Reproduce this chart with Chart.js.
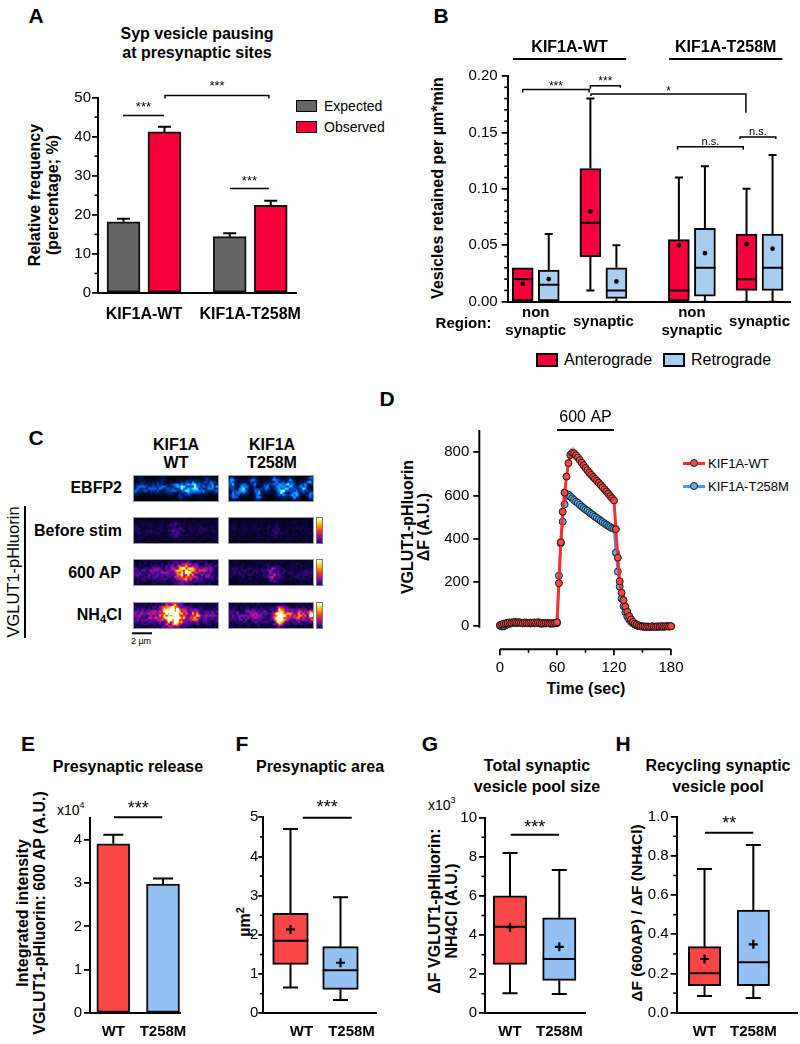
<!DOCTYPE html>
<html>
<head>
<meta charset="utf-8">
<title>KIF1A figure</title>
<script src="https://cdn.jsdelivr.net/npm/chart.js@4.4.1/dist/chart.umd.min.js"></script>
<style>
  html, body { margin:0; padding:0; background:#fff; }
  #root { position:relative; width:800px; height:1044px; overflow:hidden; background:#fff;
          font-family:"Liberation Sans", Arial, Helvetica, sans-serif; color:#000; }
  #root canvas { position:absolute; }
  .t { position:absolute; white-space:nowrap; line-height:1; }
  .bx { position:absolute; box-sizing:border-box; }
</style>
</head>
<body>
<div id="root"></div>
<script>
// ================= DATA =================
// Panel A
const aGroups = ['KIF1A-WT', 'KIF1A-T258M'];
const aSeries = ['Expected', 'Observed'];
const aExpected = [18.2, 14.4];
const aExpectedSem = [0.8, 0.9];
const aObserved = [41.2, 22.4];
const aObservedSem = [1.3, 1.2];

// Panel B (order: WT non-syn, WT syn, T258M non-syn, T258M syn)
const bGenotypes = ['KIF1A-WT', 'KIF1A-T258M'];
const bRegions = ['non|synaptic', 'synaptic', 'non|synaptic', 'synaptic'];
const bSeries = ['Anterograde', 'Retrograde'];
const bAnteroMin  = [0,     0.010, 0,     0];
const bAnteroQ1   = [0,     0.040, 0,     0.010];
const bAnteroMed  = [0.020, 0.070, 0.010, 0.020];
const bAnteroQ3   = [0.030, 0.118, 0.055, 0.060];
const bAnteroMax  = [0.030, 0.180, 0.110, 0.100];
const bAnteroMean = [0.016, 0.080, 0.050, 0.051];
const bRetroMin   = [0,     0,     0,     0];
const bRetroQ1    = [0,     0.003, 0.005, 0.010];
const bRetroMed   = [0.015, 0.010, 0.030, 0.030];
const bRetroQ3    = [0.028, 0.030, 0.065, 0.060];
const bRetroMax   = [0.060, 0.050, 0.120, 0.130];
const bRetroMean  = [0.020, 0.018, 0.043, 0.047];

// Panel D (time in s, dF in A.U.)
const dSeries = ['KIF1A-WT', 'KIF1A-T258M'];
const dYTicks = [0, 200, 400, 600, 800];
const dXTicks = [0, 60, 120, 180];
const dTime = [0,2,4,6,8,10,12,14,16,18,20,22,24,26,28,30,32,34,36,38,40,42,44,46,48,50,52,54,56,58,60,
  62,64,66,68,70,72,74,76,78,80,82,84,86,88,90,92,94,96,98,100,102,104,106,108,110,112,114,116,118,120,
  122,124,126,128,130,132,134,136,138,140,142,144,146,148,150,152,154,156,158,160,162,164,166,168,170,172,174,176,178,180];
const dWT = [3,6,9,11,13,15,14,16,17,15,16,14,13,15,14,12,14,13,15,13,16,14,12,11,13,12,10,12,11,13,16,
  196,385,526,614,688,750,788,797,795,786,776,764,752,740,728,717,706,696,686,677,668,659,649,639,629,619,609,598,588,578,
  445,314,205,152,118,88,64,44,29,18,10,5,1,-2,-3,-4,-5,-4,-5,-3,-4,-5,-3,-4,-2,-4,-3,-2,-3,-2];
const dWTsem = [3,3,3,3,3,3,3,3,3,3,3,3,3,3,3,3,3,3,3,3,3,3,3,3,3,3,3,3,3,3,4,
  14,18,20,22,24,26,27,27,26,25,25,24,24,23,23,22,22,22,21,21,20,20,19,19,18,18,17,17,16,16,
  14,12,10,8,6,5,5,4,4,3,3,3,3,3,3,3,3,3,3,3,3,3,3,3,3,3,3,3,3,3];
const dMut = [0,-4,-3,2,6,9,11,12,13,12,14,13,11,12,13,12,10,12,11,13,12,10,9,11,10,12,11,9,10,11,12,
  231,380,480,560,600,605,596,588,580,572,566,558,550,543,536,530,523,516,510,503,497,491,484,478,472,466,460,455,450,447,
  337,250,180,126,90,62,42,28,18,10,5,1,-2,-3,-4,-5,-4,-5,-6,-4,-5,-4,-6,-5,-4,-5,-4,-3,-4,-3];
const dMutSem = [2,2,2,2,2,2,2,2,2,2,2,2,2,2,2,2,2,2,2,2,2,2,2,2,2,2,2,2,2,2,2,
  10,12,12,12,11,11,10,10,10,9,9,9,9,9,8,8,8,8,8,8,8,8,7,7,7,7,7,7,7,7,
  8,7,6,5,4,4,3,3,3,2,2,2,2,2,2,2,2,2,2,2,2,2,2,2,2,2,2,2,2,2];

// Panels E-H
const ehLabels = ['WT', 'T258M'];
const eMean = [3.90, 2.97];
const eSem  = [0.21, 0.13];
const fMin = [0.66, 0.34], fQ1 = [1.25, 0.61], fMed = [1.85, 1.10], fQ3 = [2.55, 1.70], fMax = [4.70, 2.96], fMean = [2.14, 1.29];
const gMin = [1.02, 0.99], gQ1 = [2.50, 1.68], gMed = [4.42, 2.77], gQ3 = [6.00, 4.88], gMax = [8.20, 7.33], gMean = [4.40, 3.40];
const hMin = [0.085, 0.075], hQ1 = [0.138, 0.138], hMed = [0.201, 0.257], hQ3 = [0.337, 0.524], hMax = [0.733, 0.856], hMean = [0.274, 0.349];

// ================= STYLE / HELPERS =================
const FONT = '"Liberation Sans", Arial, Helvetica, sans-serif';
const RED_A = '#f5003a', GRAY_A = '#666666', BLUE_B = '#a7cdf0';
const RED_E = '#f84646', BLUE_E = '#93c1f4';
Chart.defaults.font.family = FONT;
Chart.defaults.color = '#000';
const root = document.getElementById('root');

function T(html, x, y, o) {
  o = o || {};
  const d = document.createElement('div');
  d.className = 't';
  d.innerHTML = html;
  d.style.left = x + 'px'; d.style.top = y + 'px';
  d.style.fontSize = (o.size || 16) + 'px';
  d.style.fontWeight = o.bold ? 'bold' : 'normal';
  const ax = o.align === 'left' ? '0%' : (o.align === 'right' ? '-100%' : '-50%');
  d.style.transform = 'translate(' + ax + ',-50%)' + (o.rot ? ' rotate(' + o.rot + 'deg)' : '');
  root.appendChild(d);
  return d;
}
function BX(x, y, w, h, bg, bw, extra) {
  const d = document.createElement('div');
  d.className = 'bx';
  Object.assign(d.style, {left: x + 'px', top: y + 'px', width: w + 'px', height: h + 'px', background: bg,
    border: (bw || 0) + 'px solid #000'}, extra || {});
  root.appendChild(d);
  return d;
}
function makeCanvas(L, Tp, W, H) {
  const c = document.createElement('canvas');
  c.width = W; c.height = H;
  c.style.left = L + 'px'; c.style.top = Tp + 'px';
  c.style.width = W + 'px'; c.style.height = H + 'px';
  root.appendChild(c);
  return c;
}
function frame(L, Tp, W, H, a) {
  return { L, T: Tp, canvas: makeCanvas(L, Tp, W, H),
    padding: {left: 0, top: a.top - Tp, right: L + W - a.right, bottom: 0},
    yW: a.left - L, xH: Tp + H - a.bottom };
}
function baseOpts(f) {
  return { responsive: false, animation: false, events: [], devicePixelRatio: 1,
    layout: {padding: f.padding} };
}
function yAxis(o) {
  const cfg = { type: 'linear', position: 'left', min: o.min, max: o.max,
    border: {display: o.border !== false, color: '#000', width: 2},
    grid: {display: true, drawOnChartArea: false, drawTicks: true, tickLength: o.tl || 6, color: '#000', lineWidth: 1.8},
    ticks: {stepSize: o.step, includeBounds: false, autoSkip: false, font: {size: 15}, color: '#000',
      padding: o.pad == null ? 2 : o.pad, callback: o.cb || (v => v)},
    afterFit: s => { s.width = o.w; } };
  if (o.ticks) cfg.afterBuildTicks = s => { s.ticks = o.ticks.map(v => ({value: v})); };
  return cfg;
}
function xAxisCat(o) {
  return { type: 'linear', position: 'bottom', min: o.min, max: o.max, offset: false,
    border: {display: true, color: '#000', width: 2},
    grid: {display: false, offset: false},
    ticks: {display: !!o.labels, stepSize: 1, includeBounds: false, autoSkip: false, maxRotation: 0, minRotation: 0,
      font: {size: o.fsize || 15, weight: 'bold'}, color: '#000', padding: o.pad == null ? 5 : o.pad,
      labelOffset: o.labelOffset || 0,
      callback: v => { const k = Math.round(v); return (o.labels && Math.abs(v - k) < 1e-6 && o.labels[k - 1]) ? o.labels[k - 1] : ''; }},
    afterFit: s => { s.height = o.h; } };
}

// ---- plugins ----
const minorPlugin = {
  id: 'minor',
  afterDraw(chart, args, opts) {
    const ctx = chart.ctx;
    (opts.list || []).forEach(m => {
      const s = chart.scales[m.axis];
      ctx.save(); ctx.strokeStyle = '#000'; ctx.lineWidth = 1.6;
      const n = Math.round((m.to - m.from) / m.step);
      for (let k = 0; k <= n; k++) {
        const v = m.from + k * m.step;
        if (m.major && Math.abs(v / m.major - Math.round(v / m.major)) < 1e-6) continue;
        const p = s.getPixelForValue(v);
        ctx.beginPath();
        if (s.isHorizontal()) { ctx.moveTo(p, s.top); ctx.lineTo(p, s.top + m.len); }
        else { ctx.moveTo(s.right, p); ctx.lineTo(s.right - m.len, p); }
        ctx.stroke();
      }
      ctx.restore();
    });
  }
};
const sigPlugin = {
  id: 'sig',
  afterDraw(chart, args, opts) {
    const ctx = chart.ctx, xs = chart.scales.x, ys = chart.scales.y;
    (opts.items || []).forEach(it => {
      const x1 = xs.getPixelForValue(it.x1), x2 = xs.getPixelForValue(it.x2), y = ys.getPixelForValue(it.y);
      ctx.save(); ctx.strokeStyle = '#000'; ctx.lineWidth = it.lw || 1.5;
      ctx.beginPath();
      ctx.moveTo(x1, y + (it.dl || 0));
      ctx.lineTo(x1, y); ctx.lineTo(x2, y);
      if (it.drTo != null) ctx.lineTo(x2, ys.getPixelForValue(it.drTo));
      else if (it.dr) ctx.lineTo(x2, y + it.dr);
      ctx.stroke();
      ctx.fillStyle = '#000';
      ctx.font = (it.size || 13) + 'px ' + FONT;
      ctx.textAlign = 'center'; ctx.textBaseline = 'alphabetic';
      ctx.fillText(it.text, (x1 + x2) / 2 + (it.tdx || 0), y - it.by);
      ctx.restore();
    });
  }
};
const errPlugin = {
  id: 'errbars',
  afterDatasetsDraw(chart) {
    const ctx = chart.ctx, ys = chart.scales.y;
    chart.data.datasets.forEach((ds, di) => {
      if (!ds.err) return;
      chart.getDatasetMeta(di).data.forEach((el, i) => {
        const v = ds.data[i].y;
        const base = ys.getPixelForValue(v), top = ys.getPixelForValue(v + ds.err[i]);
        ctx.save(); ctx.strokeStyle = '#000'; ctx.lineWidth = 2;
        ctx.beginPath();
        ctx.moveTo(el.x, base); ctx.lineTo(el.x, top);
        ctx.moveTo(el.x - ds.capW / 2, top); ctx.lineTo(el.x + ds.capW / 2, top);
        ctx.stroke(); ctx.restore();
      });
    });
  }
};
const boxPlugin = {
  id: 'boxes',
  afterDatasetsDraw(chart) {
    const ctx = chart.ctx, ys = chart.scales.y;
    chart.data.datasets.forEach((ds, di) => {
      if (!ds.stats) return;
      const st = ds.stats;
      chart.getDatasetMeta(di).data.forEach((el, i) => {
        const x = el.x, w = el.width, cap = ds.capW;
        const yq1 = ys.getPixelForValue(ds.data[i].y[0]), yq3 = ys.getPixelForValue(ds.data[i].y[1]);
        const ymin = ys.getPixelForValue(st.min[i]), ymax = ys.getPixelForValue(st.max[i]);
        const ymed = ys.getPixelForValue(st.med[i]), ymean = ys.getPixelForValue(st.mean[i]);
        ctx.save(); ctx.strokeStyle = '#000'; ctx.lineWidth = 2;
        ctx.beginPath();
        if (ymax < yq3 - 0.5) { ctx.moveTo(x, yq3); ctx.lineTo(x, ymax); ctx.moveTo(x - cap / 2, ymax); ctx.lineTo(x + cap / 2, ymax); }
        if (ymin > yq1 + 0.5) { ctx.moveTo(x, yq1); ctx.lineTo(x, ymin); ctx.moveTo(x - cap / 2, ymin); ctx.lineTo(x + cap / 2, ymin); }
        ctx.moveTo(x - w / 2, ymed); ctx.lineTo(x + w / 2, ymed);
        ctx.stroke();
        if (ds.meanType === 'dot') {
          ctx.fillStyle = '#000'; ctx.beginPath(); ctx.arc(x, ymean, 2.3, 0, Math.PI * 2); ctx.fill();
        } else {
          const r = 4.5; ctx.lineWidth = 2.2; ctx.beginPath();
          ctx.moveTo(x - r, ymean); ctx.lineTo(x + r, ymean); ctx.moveTo(x, ymean - r); ctx.lineTo(x, ymean + r); ctx.stroke();
        }
        ctx.restore();
      });
    });
  }
};
function boxDataset(pos, q1, q3, mn, md, mx, mean, color, thick, cap, meanType) {
  return { data: q1.map((q, i) => ({x: pos[i], y: [q, q3[i]]})), backgroundColor: color, borderColor: '#000',
    borderWidth: 2, borderSkipped: false, barThickness: thick, grouped: false,
    stats: {min: mn, med: md, max: mx, mean: mean}, capW: cap, meanType: meanType };
}
const noLegend = {legend: {display: false}, tooltip: {enabled: false}};

// ================= PANEL A =================
T('A', 36, 15, {bold: true, size: 21});
T('Syp vesicle pausing', 197, 34, {bold: true, size: 16});
T('at presynaptic sites', 197, 53, {bold: true, size: 16});
T('Relative frequency', 35, 195, {bold: true, size: 16, rot: -90});
T('(percentage; %)', 53, 195, {bold: true, size: 16, rot: -90});
BX(296, 100, 21, 12, GRAY_A, 1.5);
BX(296, 121, 21, 12, RED_A, 1.5);
T(aSeries[0], 324, 106, {size: 14, align: 'left'});
T(aSeries[1], 324, 127, {size: 14, align: 'left'});
const A_OFF = 0.193;
const fA = frame(60, 60, 250, 270, {left: 98, right: 296, top: 97.5, bottom: 293});
new Chart(fA.canvas, {
  type: 'bar',
  data: { datasets: [
    {label: aSeries[0], data: aExpected.map((v, i) => ({x: i + 1 - A_OFF, y: v})), backgroundColor: GRAY_A,
      borderColor: '#111', borderWidth: 2, borderSkipped: false, barThickness: 33, grouped: false, err: aExpectedSem, capW: 13},
    {label: aSeries[1], data: aObserved.map((v, i) => ({x: i + 1 + A_OFF, y: v})), backgroundColor: RED_A,
      borderColor: '#111', borderWidth: 2, borderSkipped: false, barThickness: 33, grouped: false, err: aObservedSem, capW: 13}
  ]},
  options: Object.assign(baseOpts(fA), {
    scales: { x: xAxisCat({min: 0.567, max: 2.431, labels: aGroups, h: fA.xH, fsize: 16, pad: 4}),
              y: yAxis({min: 0, max: 50, step: 10, w: fA.yW, pad: 1}) },
    plugins: Object.assign({}, noLegend, {
      minor: {list: [{axis: 'y', from: 5, to: 45, step: 10, len: 3.5}]},
      sig: {items: [
        {x1: 0.802, x2: 1.188, y: 45.4, text: '***', by: 4.5, size: 13},
        {x1: 1.198, x2: 2.176, y: 50.5, text: '***', dl: 3, dr: 3, by: 5.5, size: 13},
        {x1: 1.809, x2: 2.176, y: 26.7, text: '***', by: 3.5, size: 13}
      ]}
    })
  }),
  plugins: [errPlugin, minorPlugin, sigPlugin]
});

// ================= PANEL B =================
T('B', 441, 15, {bold: true, size: 21});
T('Vesicles retained per µm*min', 438, 188, {bold: true, size: 16, rot: -90});
BX(536, 353, 22, 14, RED_A, 2);
T(bSeries[0], 564, 360, {size: 16, align: 'left'});
BX(663, 353, 22, 14, BLUE_B, 2);
T(bSeries[1], 691, 360, {size: 16, align: 'left'});
const bGroupPos = [2, 7.2, 14, 19.2];
const fB = frame(400, 30, 400, 310, {left: 507.7, right: 790, top: 76, bottom: 301.7});
const bLabelPlugin = {
  id: 'bLabels',
  afterDraw(chart) {
    const ctx = chart.ctx, xs = chart.scales.x, t0 = fB.T;
    ctx.save(); ctx.fillStyle = '#000'; ctx.strokeStyle = '#000';
    ctx.textAlign = 'center'; ctx.textBaseline = 'middle';
    ctx.font = 'bold 16px ' + FONT;
    bGenotypes.forEach((g, k) => {
      const xa = xs.getPixelForValue(bGroupPos[2 * k] - 1.75), xb = xs.getPixelForValue(bGroupPos[2 * k + 1] + 1.75);
      ctx.fillText(g, (xa + xb) / 2, 48 - t0);
      ctx.lineWidth = 2; ctx.beginPath(); ctx.moveTo(xa, 59 - t0); ctx.lineTo(xb, 59 - t0); ctx.stroke();
    });
    ctx.font = 'bold 15px ' + FONT;
    bRegions.forEach((r, k) => {
      const lines = r.split('|'), x = xs.getPixelForValue(bGroupPos[k]);
      if (lines.length === 2) { ctx.fillText(lines[0], x, 313 - t0); ctx.fillText(lines[1], x, 331 - t0); }
      else ctx.fillText(lines[0], x, 322 - t0);
    });
    ctx.fillText('Region:', 463.5 - fB.L, 324 - t0);
    ctx.restore();
  }
};
new Chart(fB.canvas, {
  type: 'bar',
  data: { datasets: [
    boxDataset(bGroupPos.map(p => p - 1), bAnteroQ1, bAnteroQ3, bAnteroMin, bAnteroMed, bAnteroMax, bAnteroMean, RED_A, 21, 8, 'dot'),
    boxDataset(bGroupPos.map(p => p + 1), bRetroQ1, bRetroQ3, bRetroMin, bRetroMed, bRetroMax, bRetroMean, BLUE_B, 21, 8, 'dot')
  ]},
  options: Object.assign(baseOpts(fB), {
    scales: { x: xAxisCat({min: -0.154, max: 21.54, labels: null, h: fB.xH}),
              y: yAxis({min: 0, max: 0.20, step: 0.05, w: fB.yW, pad: 4, cb: v => v.toFixed(2)}) },
    plugins: Object.assign({}, noLegend, {
      minor: {list: [{axis: 'y', from: 0.01, to: 0.19, step: 0.01, major: 0.05, len: 3.5}]},
      sig: {items: [
        {x1: 1, x2: 6.1, y: 0.188, text: '***', dl: 3, dr: 3, by: -0.4, size: 12},
        {x1: 6.2, x2: 8.5, y: 0.1914, text: '***', dl: 3, dr: 2, by: 1, size: 12},
        {x1: 6.25, x2: 18.15, y: 0.1841, text: '*', dl: 2, drTo: 0.1675, by: -0.7, size: 12},
        {x1: 12.9, x2: 17.95, y: 0.1374, text: 'n.s.', dl: 3, dr: 3, by: 2.1, size: 11},
        {x1: 17.7, x2: 20.45, y: 0.146, text: 'n.s.', dl: 2, dr: 2, by: 1.8, size: 11}
      ]}
    })
  }),
  plugins: [boxPlugin, minorPlugin, sigPlugin, bLabelPlugin]
});

// ================= PANEL C (micrographs) =================
T('C', 36, 437, {bold: true, size: 21});
T('KIF1A', 176, 445, {bold: true, size: 16}); T('WT', 176, 463, {bold: true, size: 16});
T('KIF1A', 272, 445, {bold: true, size: 16}); T('T258M', 272, 463, {bold: true, size: 16});
T('EBFP2', 122, 488, {bold: true, size: 16, align: 'right'});
T('Before stim', 122, 531, {bold: true, size: 16, align: 'right'});
T('600 AP', 121, 573, {bold: true, size: 16, align: 'right'});
T('NH<sub style="font-size:11px;vertical-align:-3px;line-height:0">4</sub>Cl', 122, 615, {bold: true, size: 16, align: 'right'});
T('VGLUT1-pHluorin', 13, 572, {size: 16.5, rot: -90});
BX(24, 506, 1.5, 132, '#000', 0);
T('2 µm', 141, 641, {size: 9});
(function drawC() {
  const L = 0, TT = 420;
  const cv = makeCanvas(L, TT, 340, 230);
  const ctx = cv.getContext('2d');
  function vnoise(x, y, seed) {
    const xi = Math.floor(x), yi = Math.floor(y), xf = x - xi, yf = y - yi;
    const h = (a, b) => { const s = Math.sin(a * 127.1 + b * 311.7 + seed * 74.7) * 43758.5453; return s - Math.floor(s); };
    const a = h(xi, yi), b = h(xi + 1, yi), c = h(xi, yi + 1), d = h(xi + 1, yi + 1);
    const u = xf * xf * (3 - 2 * xf), v = yf * yf * (3 - 2 * yf);
    return a + (b - a) * u + (c - a) * v + (a - b - c + d) * u * v;
  }
  function lutFrom(stops) {
    return t => {
      t = Math.max(0, Math.min(1, t));
      for (let k = 1; k < stops.length; k++) {
        if (t <= stops[k][0]) {
          const a = stops[k - 1], b = stops[k], f = (t - a[0]) / (b[0] - a[0]);
          return [a[1] + (b[1] - a[1]) * f, a[2] + (b[2] - a[2]) * f, a[3] + (b[3] - a[3]) * f];
        }
      }
      const s = stops[stops.length - 1]; return [s[1], s[2], s[3]];
    };
  }
  const fire = lutFrom([[0, 0, 0, 0], [0.12, 15, 5, 70], [0.3, 90, 10, 160], [0.45, 175, 20, 140], [0.58, 232, 50, 60], [0.7, 255, 120, 0], [0.85, 255, 210, 20], [1, 255, 255, 245]]);
  const cyan = lutFrom([[0, 0, 0, 0], [0.25, 0, 25, 95], [0.5, 0, 95, 225], [0.75, 20, 175, 255], [1, 150, 245, 255]]);
  function micro(x, y, w, h, spec, lut) {
    const W = Math.round(w), H = Math.round(h);
    const im = ctx.createImageData(W, H);
    for (let j = 0; j < H; j++) for (let i = 0; i < W; i++) {
      const u = (i + 0.5) / W, v = (j + 0.5) / H;
      let val = spec.base + spec.band * Math.exp(-((v - 0.5) * (v - 0.5)) / (2 * 0.2 * 0.2));
      for (const b of spec.blobs) val += spec.gain * b[4] * Math.exp(-0.5 * (((u - b[0]) / b[2]) ** 2 + ((v - b[1]) / b[3]) ** 2));
      const n = vnoise(i / 2.2, j / 2.2, spec.seed);
      val = val * (0.45 + 1.1 * n);
      const c = lut(val), p = (j * W + i) * 4;
      im.data[p] = c[0]; im.data[p + 1] = c[1]; im.data[p + 2] = c[2]; im.data[p + 3] = 255;
    }
    ctx.putImageData(im, Math.round(x), Math.round(y));
    ctx.strokeStyle = '#9a9a9a'; ctx.lineWidth = 1;
    ctx.strokeRect(Math.round(x) + 0.5, Math.round(y) + 0.5, W - 1, H - 1);
  }
  const colX = [133, 228], rowY = [475, 517, 559, 602].map(v => v - TT), IW = 86, IH = 27;
  const specs = [
    [{base: 0.02, band: 0.03, seed: 1, gain: 0.82, blobs: [[0.03,0.55,0.035,0.14,0.4],[0.12,0.42,0.045,0.15,0.45],[0.2,0.55,0.04,0.12,0.3],[0.3,0.45,0.05,0.15,0.5],[0.42,0.5,0.045,0.15,0.45],[0.52,0.45,0.045,0.14,0.55],[0.62,0.5,0.055,0.17,0.9],[0.72,0.42,0.045,0.15,0.7],[0.8,0.55,0.035,0.15,0.45],[0.9,0.4,0.045,0.15,0.55],[0.98,0.5,0.03,0.15,0.45],[0.08,0.1,0.02,0.08,0.3],[0.35,0.1,0.03,0.1,0.25],[0.55,0.9,0.03,0.1,0.3],[0.85,0.12,0.02,0.1,0.35]]},
     {base: 0.02, band: 0.02, seed: 2, gain: 0.85, blobs: [[0.05,0.3,0.035,0.15,0.8],[0.08,0.75,0.035,0.13,0.7],[0.18,0.5,0.04,0.16,0.7],[0.3,0.25,0.035,0.13,0.6],[0.35,0.7,0.035,0.15,0.7],[0.45,0.45,0.035,0.15,0.5],[0.55,0.2,0.03,0.12,0.6],[0.63,0.55,0.05,0.18,1.0],[0.72,0.3,0.035,0.13,0.7],[0.78,0.7,0.035,0.15,0.8],[0.88,0.45,0.035,0.16,0.75],[0.96,0.2,0.03,0.12,0.7],[0.97,0.75,0.03,0.12,0.6]]}],
    [{base: 0.07, band: 0.05, seed: 3, gain: 1, blobs: [[0.5,0.45,0.05,0.2,0.12]]},
     {base: 0.06, band: 0.04, seed: 4, gain: 1, blobs: [[0.55,0.5,0.04,0.15,0.1]]}],
    [{base: 0.08, band: 0.15, seed: 5, gain: 1, blobs: [[0.6,0.5,0.09,0.25,0.6],[0.63,0.45,0.05,0.15,0.2],[0.3,0.45,0.1,0.2,0.08],[0.85,0.45,0.08,0.2,0.12]]},
     {base: 0.07, band: 0.08, seed: 6, gain: 1, blobs: [[0.53,0.55,0.04,0.2,0.33]]}],
    [{base: 0.08, band: 0.2, seed: 7, gain: 1, blobs: [[0.45,0.45,0.08,0.28,1.05],[0.52,0.55,0.05,0.22,0.45],[0.72,0.55,0.04,0.15,0.45],[0.2,0.5,0.1,0.2,0.1]]},
     {base: 0.07, band: 0.18, seed: 8, gain: 1, blobs: [[0.6,0.55,0.035,0.22,1.1],[0.68,0.5,0.05,0.15,0.45],[0.85,0.5,0.05,0.15,0.35],[0.97,0.5,0.02,0.15,0.6],[0.3,0.5,0.1,0.2,0.1]]}]
  ];
  specs.forEach((row, r) => row.forEach((sp, c) => micro(colX[c], rowY[r], IW, IH, sp, r === 0 ? cyan : fire)));
  for (let r = 1; r < 4; r++) {
    const g = ctx.createLinearGradient(0, rowY[r], 0, rowY[r] + IH);
    [[0, '#ffffff'], [0.12, '#fff07a'], [0.3, '#ffb000'], [0.5, '#f03c28'], [0.68, '#b0108c'], [0.85, '#4a0aa0'], [1, '#100850']].forEach(s => g.addColorStop(s[0], s[1]));
    ctx.fillStyle = g; ctx.fillRect(316, rowY[r], 7, IH);
    ctx.strokeStyle = '#777'; ctx.lineWidth = 1; ctx.strokeRect(316.5, rowY[r] + 0.5, 6, IH - 1);
  }
  ctx.strokeStyle = '#000'; ctx.lineWidth = 2;
  ctx.beginPath(); ctx.moveTo(132, 633.3 - TT); ctx.lineTo(152, 633.3 - TT); ctx.stroke();
})();

// ================= PANEL D =================
T('D', 387, 398, {bold: true, size: 21});
T('VGLUT1-pHluorin', 408, 527, {bold: true, size: 16, rot: -90});
T('ΔF (A.U.)', 424, 527, {bold: true, size: 16, rot: -90});
T('Time (sec)', 586, 689, {bold: true, size: 16});
[[dSeries[0], 463.3, '#ff2d2d', '#f04848'], [dSeries[1], 486, '#3b9cff', '#5cb0ee']].forEach(l => {
  BX(683, l[1] - 1.5, 22, 3, l[2], 0);
  BX(690, l[1] - 4, 8, 8, l[3], 1, {borderRadius: '50%', borderColor: '#222'});
  T(l[0], 708, l[1], {size: 13, align: 'left'});
});
const fD = frame(400, 400, 400, 300, {left: 479.3, right: 671, top: 430, bottom: 649.3});
const dAxisPlugin = {
  id: 'dAxes',
  afterDraw(chart) {
    const ctx = chart.ctx, xs = chart.scales.x, ys = chart.scales.y, ca = chart.chartArea;
    ctx.save(); ctx.strokeStyle = '#000'; ctx.lineWidth = 2;
    ctx.beginPath();
    ctx.moveTo(ca.left, ca.top); ctx.lineTo(ca.left, ys.getPixelForValue(0) + 2);
    ctx.moveTo(xs.getPixelForValue(dXTicks[0]), ca.bottom); ctx.lineTo(xs.getPixelForValue(dXTicks[dXTicks.length - 1]), ca.bottom);
    ctx.stroke();
    const x1 = xs.getPixelForValue(60), x2 = xs.getPixelForValue(120);
    ctx.beginPath(); ctx.moveTo(x1, ca.top); ctx.lineTo(x2, ca.top); ctx.stroke();
    ctx.fillStyle = '#000'; ctx.font = '16px ' + FONT; ctx.textAlign = 'center'; ctx.textBaseline = 'middle';
    ctx.fillText('600 AP', (x1 + x2) / 2, ca.top - 12);
    ctx.restore();
  }
};
function pts(vals) { return dTime.map((t, i) => ({x: t, y: vals[i]})); }
new Chart(fD.canvas, {
  type: 'line',
  data: { datasets: [
    {label: dSeries[0], data: pts(dWT), borderColor: '#ff2d2d', borderWidth: 3, pointRadius: 3.5,
      pointBackgroundColor: '#f04848', pointBorderColor: '#2a1010', pointBorderWidth: 1, tension: 0, clip: false, order: 0, fill: false},
    {data: pts(dWT.map((v, i) => v + dWTsem[i])), borderWidth: 0, pointRadius: 0, fill: '+1', backgroundColor: 'rgba(255,70,70,0.55)', order: 1, clip: false},
    {data: pts(dWT.map((v, i) => v - dWTsem[i])), borderWidth: 0, pointRadius: 0, fill: false, order: 1, clip: false},
    {label: dSeries[1], data: pts(dMut), borderColor: '#3b9cff', borderWidth: 2.5, pointRadius: 3.5,
      pointBackgroundColor: '#5cb0ee', pointBorderColor: '#10202a', pointBorderWidth: 1, tension: 0, clip: false, order: 2, fill: false},
    {data: pts(dMut.map((v, i) => v + dMutSem[i])), borderWidth: 0, pointRadius: 0, fill: '+1', backgroundColor: 'rgba(50,140,255,0.6)', order: 3, clip: false},
    {data: pts(dMut.map((v, i) => v - dMutSem[i])), borderWidth: 0, pointRadius: 0, fill: false, order: 3, clip: false}
  ]},
  options: Object.assign(baseOpts(fD), {
    scales: {
      x: { type: 'linear', position: 'bottom', min: -21.8, max: 180,
        border: {display: false},
        grid: {display: true, drawOnChartArea: false, drawTicks: true, tickLength: 6, color: '#000', lineWidth: 1.8},
        ticks: {stepSize: 60, includeBounds: false, autoSkip: false, maxRotation: 0, font: {size: 15}, color: '#000', padding: 4},
        afterBuildTicks: s => { s.ticks = dXTicks.map(v => ({value: v})); },
        afterFit: s => { s.height = fD.xH; } },
      y: yAxis({min: -108.9, max: 902.9, step: 200, w: fD.yW, pad: 4, border: false, ticks: dYTicks})
    },
    plugins: Object.assign({}, noLegend, {
      filler: {propagate: false},
      minor: {list: [{axis: 'x', from: 30, to: 150, step: 60, len: 3.5}]}
    })
  }),
  plugins: [dAxisPlugin, minorPlugin]
});

// ================= PANELS E-H =================
T('E', 28, 743, {bold: true, size: 21});
T('F', 242, 743, {bold: true, size: 21});
T('G', 430, 743, {bold: true, size: 21});
T('H', 623, 743, {bold: true, size: 21});
T('Presynaptic release', 128, 767, {bold: true, size: 16});
T('Presynaptic area', 320, 767, {bold: true, size: 16});
T('Total synaptic', 537, 766, {bold: true, size: 16});
T('vesicle pool size', 537, 787, {bold: true, size: 16});
T('Recycling synaptic', 718, 766, {bold: true, size: 16});
T('vesicle pool', 718, 787, {bold: true, size: 16});
T('Integrated intensity', 23, 913, {bold: true, size: 16, rot: -90});
T('VGLUT1-pHluorin: 600 AP (A.U.)', 40, 913, {bold: true, size: 16, rot: -90});
T('µm<sup style="font-size:11px;vertical-align:6px;line-height:0">2</sup>', 245, 922, {bold: true, size: 16, rot: -90});
T('ΔF VGLUT1-pHluorin:', 435, 911, {bold: true, size: 16, rot: -90});
T('NH4Cl (A.U.)', 452, 911, {bold: true, size: 16, rot: -90});
T('ΔF (600AP) / ΔF (NH4Cl)', 637, 913, {bold: true, size: 15.5, rot: -90});
T('x10<sup style="font-size:9px;vertical-align:7px;line-height:0">4</sup>', 57, 810, {size: 14, align: 'left'});
T('x10<sup style="font-size:9px;vertical-align:7px;line-height:0">3</sup>', 428, 805, {size: 14, align: 'left'});

// E bar chart
const fE = frame(0, 800, 200, 244, {left: 90, right: 180, top: 817.7, bottom: 1013.3});
new Chart(fE.canvas, {
  type: 'bar',
  data: { datasets: [
    {data: eMean.map((v, i) => ({x: i + 1, y: v})), backgroundColor: [RED_E, BLUE_E], borderColor: '#111',
      borderWidth: 2, borderSkipped: false, barThickness: 33, grouped: false, err: eSem, capW: 20}
  ]},
  options: Object.assign(baseOpts(fE), {
    scales: { x: xAxisCat({min: 0.531, max: 2.342, labels: ehLabels, h: fE.xH, pad: 2}),
              y: yAxis({min: 0, max: 4.5, step: 1, w: fE.yW, pad: 2}) },
    plugins: Object.assign({}, noLegend, {
      sig: {items: [{x1: 1.014, x2: 1.986, y: 4.51, text: '***', by: 3.6, size: 18, lw: 2}]}
    })
  }),
  plugins: [errPlugin, sigPlugin]
});

function boxPanel(f, xr, yr, st, thick, labelOffset, minor, sig, ypad, tl) {
  return new Chart(f.canvas, {
    type: 'bar',
    data: { datasets: [
      { data: st.q1.map((q, i) => ({x: i + 1, y: [q, st.q3[i]]})), backgroundColor: [RED_E, BLUE_E], borderColor: '#000',
        borderWidth: 2, borderSkipped: false, barThickness: thick, grouped: false,
        stats: {min: st.min, med: st.med, max: st.max, mean: st.mean}, capW: 15, meanType: 'plus' }
    ]},
    options: Object.assign(baseOpts(f), {
      scales: { x: xAxisCat({min: xr[0], max: xr[1], labels: ehLabels, h: f.xH, pad: 2, labelOffset: labelOffset}),
                y: yAxis({min: yr[0], max: yr[1], step: yr[2], w: f.yW, pad: ypad, tl: tl, cb: yr[3]}) },
      plugins: Object.assign({}, noLegend, { minor: {list: [minor]}, sig: {items: [sig]} })
    }),
    plugins: [boxPlugin, minorPlugin, sigPlugin]
  });
}
const fF = frame(200, 800, 190, 244, {left: 263.3, right: 376.7, top: 817.3, bottom: 1013.3});
boxPanel(fF, [0.456, 2.724], [0, 5, 1], {q1: fQ1, q3: fQ3, min: fMin, med: fMed, max: fMax, mean: fMean}, 35.6, 11,
  {axis: 'y', from: 0.5, to: 4.5, step: 1, len: 3.5},
  {x1: 1.244, x2: 2.224, y: 4.99, text: '***', by: 4.6, size: 18, lw: 2}, 0, 5);
const fG = frame(390, 800, 205, 244, {left: 485, right: 585, top: 817.7, bottom: 1013.3});
boxPanel(fG, [0.493, 2.521], [0, 10, 2], {q1: gQ1, q3: gQ3, min: gMin, med: gMed, max: gMax, mean: gMean}, 33.3, 0,
  {axis: 'y', from: 1, to: 9, step: 2, len: 3.5},
  {x1: 1.014, x2: 1.994, y: 9.13, text: '***', by: 2.2, size: 18, lw: 2}, 2, 6);
const fH = frame(595, 800, 205, 244, {left: 676.7, right: 797, top: 816.7, bottom: 1012.7});
boxPanel(fH, [0.43, 2.895], [0, 1, 0.2, v => v.toFixed(1)], {q1: hQ1, q3: hQ3, min: hMin, med: hMed, max: hMax, mean: hMean}, 32.4, 0,
  {axis: 'y', from: 0.1, to: 0.9, step: 0.2, len: 3.5},
  {x1: 1.01, x2: 2.0, y: 0.918, text: '**', by: 3.3, size: 18, lw: 2}, 2, 6);
</script>
</body>
</html>
